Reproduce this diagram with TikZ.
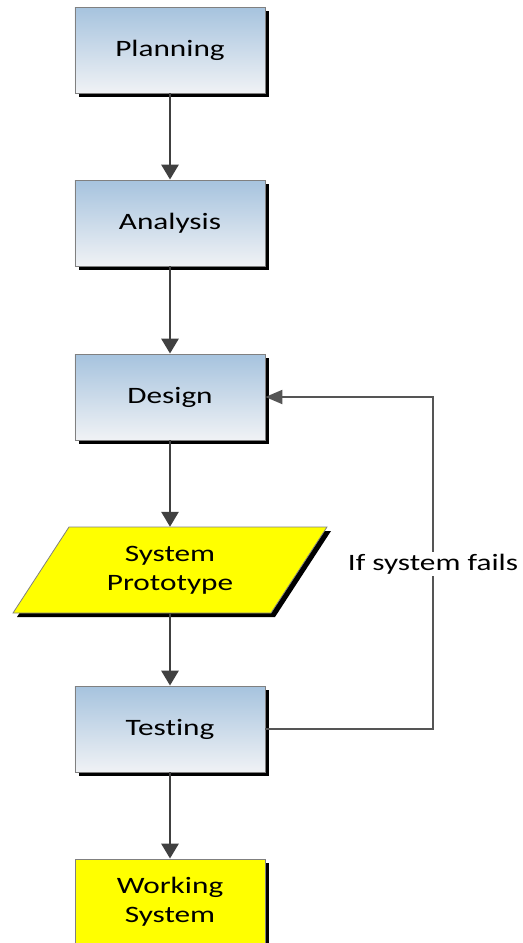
\documentclass[tikz,border=0pt]{standalone}
\usepackage{fontspec}
\setmainfont{Carlito}[FakeStretch=1.33, Ligatures=NoCommon]
\usetikzlibrary{arrows.meta,shadows}
\definecolor{boxtop}{RGB}{166,195,222}
\definecolor{boxbottom}{RGB}{240,242,245}
\definecolor{edgegray}{RGB}{128,128,128}
\definecolor{arrowgray}{RGB}{64,64,64}
\definecolor{loopgray}{RGB}{85,85,85}
\definecolor{protoyellow}{RGB}{255,255,0}
\tikzset{
  labelfont/.style={font=\fontsize{23.5bp}{29bp}\selectfont},
  hardshadow/.style={drop shadow={shadow xshift=4bp, shadow yshift=-4bp, fill=black, opacity=1}},
  stage/.style={rectangle, minimum width=190bp, minimum height=86bp, inner sep=0pt,
    top color=boxtop, bottom color=boxbottom, draw=edgegray, line width=0.8bp,
    hardshadow, labelfont, align=center},
  result/.style={rectangle, minimum width=190bp, minimum height=86bp, inner sep=0pt,
    fill=protoyellow, draw=edgegray, line width=0.8bp,
    hardshadow, labelfont, align=center},
  protoarea/.style={rectangle, minimum width=190bp, minimum height=86bp, inner sep=0pt,
    labelfont, align=center},
  flow/.style={draw=arrowgray, line width=2.8bp, -{Triangle[length=15bp,width=17bp]}},
  loopline/.style={draw=loopgray, line width=2bp, -{Triangle[length=17bp,width=14bp]}},
  looplabel/.style={fill=white, inner sep=2bp, labelfont}
}
\begin{document}
\begin{tikzpicture}[x=1bp,y=-1bp]
  \useasboundingbox (0,0) rectangle (523,943);
  \clip (0,0) rectangle (523,943);

  % process stages
  \node[stage] (plan) at (170,50) {Planning};
  \node[stage] (anal) at (170,223) {Analysis};
  \node[stage] (design) at (170,397) {Design};

  % prototype parallelogram with its hard shadow
  \fill[black] (73,531) -- (331,531) -- (275,617) -- (17,617) -- cycle;
  \filldraw[fill=protoyellow, draw=edgegray, line width=0.8bp]
    (69,527) -- (327,527) -- (271,613) -- (13,613) -- cycle;
  \node[protoarea] (proto) at (170,570) {System\\Prototype};

  \node[stage] (test) at (170,729) {Testing};
  \node[result] (work) at (170,902) {Working\\System};

  % main flow
  \draw[flow] (plan) -- (anal);
  \draw[flow] (anal) -- (design);
  \draw[flow] (design) -- (proto);
  \draw[flow] (proto) -- (test);
  \draw[flow] (test) -- (work);

  % feedback loop
  \coordinate (turnlow) at (433,729);
  \coordinate (turnhigh) at (433,397);
  \draw[loopline] (test.east) -- (turnlow) -- (turnhigh) -- (design.east);
  \node[looplabel] (failnote) at (433,564) {If system fails};
\end{tikzpicture}
\end{document}
